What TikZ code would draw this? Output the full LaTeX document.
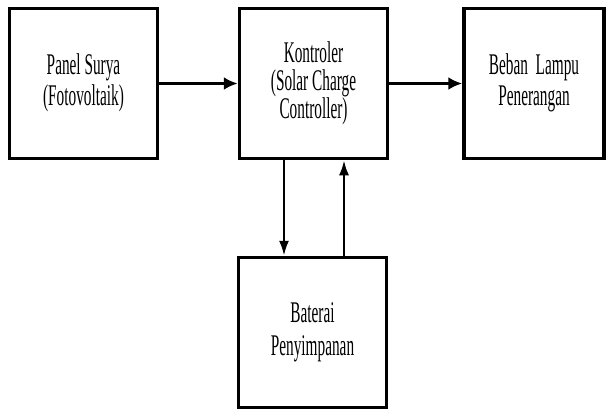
\documentclass[tikz,border=0pt]{standalone}
\usepackage{fontspec}
\setmainfont{Liberation Serif}
\usetikzlibrary{arrows.meta}
\tikzset{%
  blok/.style={draw,line width=3.5pt,minimum width=148pt,minimum height=150pt,inner sep=0,font=\fontsize{30}{31}\selectfont},
  tebal/.style={draw,line width=3.8pt,-{Latex[length=14pt,width=13pt]}},
  tipis/.style={draw,line width=2.4pt,-{Latex[length=15pt,width=10pt]}}
}
\newcommand{\sempit}[1]{\scalebox{0.51}[1]{\begin{tabular}{@{}c@{}}#1\end{tabular}}}

\begin{document}
\begin{tikzpicture}[x=1pt,y=-1pt]
  \useasboundingbox (0,0) rectangle (607,410);
  \path
    (83.5,83.5) node[blok] (panel){\sempit{Panel Surya\\(Fotovoltaik)}}
    (313.5,83.5) node[blok,font=\fontsize{30}{24.5}\selectfont] (kontrol){\sempit{Kontroler\\(Solar Charge\\Controller)}}
    (534,83.5) node[blok,minimum width=140pt] (beban){\sempit{Beban~ Lampu\\Penerangan}}
    (312.5,332.5) node[blok,font=\fontsize{30}{33}\selectfont] (baterai){\sempit{Baterai\\Penyimpanan}};
  \draw[tebal] (panel) -- (kontrol);
  \draw[tebal] (kontrol) -- (beban);
  \draw[tipis] ([xshift=-29.5pt]kontrol.south) -- ([xshift=-29.5pt]kontrol.south |- baterai.north);
  \draw[tipis] ([xshift=30.5pt]kontrol.south |- baterai.north) -- ([xshift=30.5pt]kontrol.south);
\end{tikzpicture}
\end{document}
